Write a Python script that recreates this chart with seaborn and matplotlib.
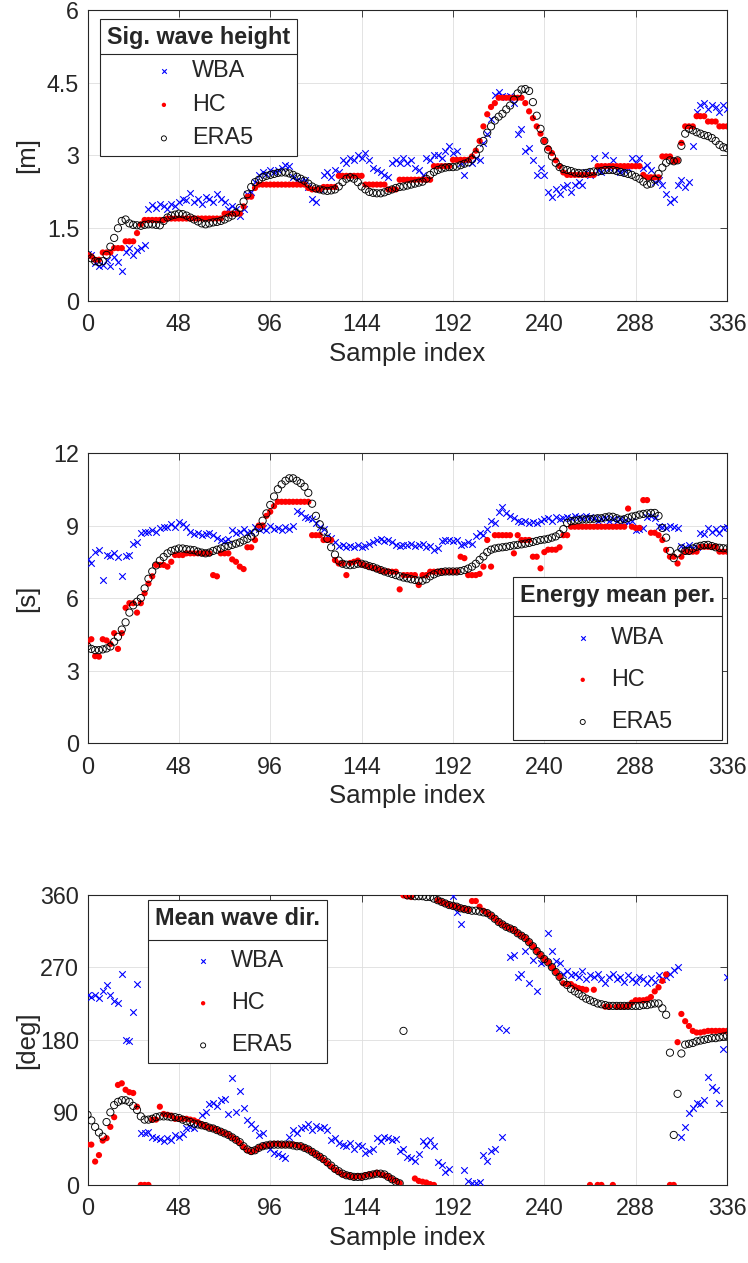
import numpy as np
import matplotlib
matplotlib.use("Agg")
import matplotlib.pyplot as plt
import seaborn as sns
from matplotlib.lines import Line2D

# every second sample, 0..336
sample = np.arange(0, 337, 2)

# significant wave height [m]
hs_wba = [0.97, 0.95, 0.78, 0.72, 0.75, 0.85, 0.72, 0.90, 0.80, 0.62, 1.00, 1.10,
          0.95, 1.05, 1.10, 1.15, 1.90, 1.98, 1.92, 2.00, 1.95, 1.90, 2.00, 1.95,
          2.05, 2.10, 2.08, 2.22, 2.05, 2.10, 2.00, 2.15, 2.10, 2.05, 2.20, 2.10,
          2.05, 1.90, 1.95, 1.90, 1.75, 1.90, 2.20, 2.25, 2.45, 2.60, 2.65, 2.62,
          2.70, 2.65, 2.70, 2.75, 2.80, 2.78, 2.55, 2.50, 2.48, 2.50, 2.35, 2.10,
          2.05, 2.30, 2.60, 2.65, 2.55, 2.70, 2.65, 2.90, 2.85, 2.95, 2.90, 3.00,
          2.95, 3.05, 2.90, 2.75, 2.70, 2.65, 2.60, 2.55, 2.85, 2.90, 2.85, 2.95,
          2.85, 2.90, 2.75, 2.70, 2.60, 2.95, 2.90, 3.00, 3.00, 2.95, 3.10, 3.20,
          3.05, 3.10, 2.85, 2.60, 2.90, 2.85, 2.95, 2.90, 3.25, 3.45, 3.75, 4.25,
          4.30, 4.22, 4.20, 4.22, 4.08, 3.45, 3.55, 3.10, 3.15, 2.90, 2.60, 2.75,
          2.60, 2.25, 2.15, 2.30, 2.20, 2.35, 2.40, 2.25, 2.40, 2.45, 2.40, 2.65,
          2.60, 2.95, 2.70, 2.65, 3.00, 2.75, 2.90, 2.70, 2.65, 2.70, 2.75, 2.95,
          2.85, 2.95, 2.75, 2.80, 2.70, 2.45, 2.50, 2.40, 2.20, 2.05, 2.10, 2.40,
          2.50, 2.35, 2.45, 3.20, 3.90, 4.05, 4.08, 3.95, 4.05, 4.00, 3.90, 4.05,
          3.95]
hs_hc = [0.95, 0.92, 0.85, 0.85, 1.00, 1.00, 1.00, 1.09, 1.09, 1.09, 1.23, 1.23,
         1.23, 1.40, 1.58, 1.67, 1.67, 1.67, 1.67, 1.67, 1.67, 1.70, 1.70, 1.70,
         1.70, 1.70, 1.70, 1.70, 1.70, 1.70, 1.70, 1.70, 1.70, 1.70, 1.70, 1.70,
         1.80, 1.80, 1.80, 1.80, 1.80, 1.95, 2.15, 2.15, 2.33, 2.40, 2.40, 2.40,
         2.40, 2.40, 2.40, 2.40, 2.40, 2.40, 2.40, 2.40, 2.40, 2.40, 2.33, 2.30,
         2.30, 2.30, 2.35, 2.35, 2.35, 2.35, 2.58, 2.58, 2.58, 2.58, 2.58, 2.58,
         2.58, 2.40, 2.40, 2.40, 2.40, 2.40, 2.40, 2.30, 2.30, 2.30, 2.50, 2.50,
         2.50, 2.50, 2.50, 2.50, 2.50, 2.50, 2.50, 2.78, 2.78, 2.78, 2.78, 2.78,
         2.91, 2.91, 2.91, 2.91, 2.91, 2.98, 3.10, 3.30, 3.60, 3.85, 4.00, 4.08,
         4.19, 4.19, 4.19, 4.19, 4.19, 4.19, 4.19, 4.08, 3.91, 3.77, 3.60, 3.45,
         3.30, 3.15, 3.05, 2.90, 2.78, 2.65, 2.60, 2.60, 2.60, 2.60, 2.60, 2.60,
         2.60, 2.60, 2.78, 2.78, 2.78, 2.78, 2.78, 2.78, 2.78, 2.78, 2.78, 2.78,
         2.78, 2.78, 2.60, 2.55, 2.55, 2.55, 2.55, 2.98, 2.98, 2.98, 2.88, 2.90,
         3.26, 3.60, 3.60, 3.60, 3.81, 3.81, 3.81, 3.70, 3.70, 3.70, 3.60, 3.60,
         3.60]
hs_era5 = [0.95, 0.88, 0.82, 0.80, 0.82, 0.95, 1.12, 1.30, 1.50, 1.65, 1.68, 1.60,
           1.57, 1.56, 1.55, 1.57, 1.58, 1.58, 1.57, 1.56, 1.65, 1.72, 1.76, 1.78,
           1.80, 1.79, 1.76, 1.72, 1.68, 1.64, 1.60, 1.58, 1.60, 1.62, 1.63, 1.65,
           1.68, 1.72, 1.76, 1.82, 1.92, 2.05, 2.20, 2.35, 2.45, 2.50, 2.55, 2.58,
           2.60, 2.62, 2.64, 2.65, 2.65, 2.63, 2.60, 2.56, 2.52, 2.48, 2.42, 2.36,
           2.32, 2.30, 2.28, 2.27, 2.28, 2.30, 2.36, 2.45, 2.52, 2.55, 2.52, 2.45,
           2.36, 2.30, 2.25, 2.23, 2.22, 2.22, 2.24, 2.27, 2.30, 2.33, 2.35, 2.36,
           2.38, 2.40, 2.42, 2.44, 2.46, 2.52, 2.60, 2.66, 2.70, 2.73, 2.75, 2.76,
           2.76, 2.77, 2.80, 2.83, 2.86, 2.92, 3.02, 3.14, 3.30, 3.47, 3.60, 3.72,
           3.80, 3.86, 3.95, 4.03, 4.15, 4.28, 4.36, 4.37, 4.33, 4.10, 3.82, 3.55,
           3.30, 3.12, 2.98, 2.85, 2.76, 2.72, 2.70, 2.68, 2.65, 2.64, 2.63, 2.64,
           2.66, 2.67, 2.67, 2.68, 2.70, 2.70, 2.70, 2.68, 2.66, 2.64, 2.62, 2.60,
           2.56, 2.52, 2.46, 2.40, 2.42, 2.50, 2.62, 2.75, 2.85, 2.90, 2.88, 2.90,
           3.20, 3.45, 3.55, 3.52, 3.48, 3.45, 3.42, 3.40, 3.36, 3.30, 3.22, 3.17,
           3.15]

# energy mean period [s]
tm_wba = [7.60, 7.45, 7.90, 8.00, 6.75, 7.80, 7.75, 7.85, 7.70, 6.90, 7.75, 7.80,
          8.25, 8.30, 8.70, 8.75, 8.72, 8.80, 8.75, 8.90, 8.95, 8.95, 9.05, 8.95,
          9.15, 9.05, 8.95, 8.75, 8.65, 8.70, 8.60, 8.65, 8.70, 8.60, 8.50, 8.40,
          8.35, 8.45, 8.80, 8.70, 8.75, 8.85, 8.70, 8.75, 8.95, 8.85, 8.90, 8.80,
          9.00, 8.85, 8.90, 8.80, 8.95, 8.85, 9.00, 9.60, 9.50, 9.35, 9.30, 9.25,
          9.10, 8.95, 8.85, 8.55, 8.50, 8.30, 8.15, 8.20, 8.10, 8.15, 8.10, 8.20,
          8.10, 8.15, 8.25, 8.30, 8.40, 8.45, 8.35, 8.40, 8.30, 8.20, 8.15, 8.20,
          8.20, 8.25, 8.15, 8.20, 8.25, 8.10, 8.15, 8.00, 8.05, 8.35, 8.40, 8.40,
          8.35, 8.40, 8.20, 8.25, 8.30, 8.25, 8.55, 8.70, 8.60, 8.85, 9.20, 9.10,
          9.55, 9.75, 9.50, 9.40, 9.30, 9.20, 9.15, 9.20, 9.10, 9.15, 9.10, 9.20,
          9.25, 9.30, 9.20, 9.35, 9.25, 9.30, 9.35, 9.30, 9.40, 9.35, 9.30, 9.40,
          9.35, 9.30, 9.20, 9.25, 9.30, 9.20, 9.25, 9.20, 9.25, 9.20, 9.15, 9.20,
          8.80, 8.85, 8.90, 9.35, 9.40, 9.30, 9.00, 8.95, 8.90, 9.00, 8.95, 8.90,
          8.15, 8.10, 8.20, 8.05, 8.10, 8.70, 8.65, 8.90, 8.75, 8.85, 8.70, 8.90,
          8.95]
tm_hc = [4.20, 4.30, 3.60, 3.58, 4.30, 4.25, 4.10, 4.55, 3.90, 4.55, 5.60, 5.79,
         5.79, 5.40, 5.79, 6.20, 6.60, 6.90, 7.37, 7.37, 7.37, 7.30, 7.50, 7.78,
         7.78, 7.78, 7.85, 7.85, 7.85, 7.85, 7.85, 7.85, 7.85, 6.95, 6.90, 7.85,
         7.85, 7.85, 7.60, 7.50, 7.30, 7.20, 8.10, 8.10, 8.40, 9.00, 9.00, 9.40,
         9.57, 9.80, 9.98, 9.98, 9.98, 9.98, 9.98, 9.98, 9.98, 9.98, 9.98, 8.60,
         8.60, 8.60, 8.40, 8.40, 8.40, 7.57, 7.43, 7.43, 6.95, 7.45, 7.50, 7.55,
         7.40, 7.35, 7.30, 7.25, 7.20, 7.15, 7.10, 7.10, 7.09, 7.09, 6.36, 6.95,
         6.95, 6.95, 6.95, 6.54, 6.95, 6.95, 7.09, 7.09, 7.09, 7.09, 7.09, 7.09,
         7.09, 7.09, 7.71, 7.65, 6.95, 6.95, 6.95, 7.00, 7.30, 8.40, 7.30, 8.60,
         8.60, 8.60, 8.60, 8.60, 7.85, 8.60, 8.40, 8.40, 8.40, 7.71, 7.71, 7.23,
         7.90, 8.00, 8.00, 8.00, 8.10, 8.60, 8.60, 8.95, 8.95, 8.95, 8.95, 8.95,
         8.95, 8.95, 8.95, 8.95, 8.95, 8.95, 8.95, 8.95, 8.95, 8.95, 9.70, 8.95,
         8.90, 8.90, 10.05, 10.05, 8.70, 8.70, 8.60, 8.40, 7.99, 7.71, 7.71, 7.43,
         7.71, 7.92, 7.92, 7.92, 7.92, 8.12, 8.12, 8.12, 8.12, 8.12, 7.92, 7.92,
         7.92]
tm_era5 = [4.00, 3.90, 3.85, 3.85, 3.88, 3.92, 4.00, 4.20, 4.40, 4.70, 5.00, 5.40,
           5.70, 5.85, 6.00, 6.40, 6.80, 7.10, 7.35, 7.55, 7.70, 7.85, 7.95, 8.00,
           8.05, 8.05, 8.02, 8.00, 7.98, 7.92, 7.88, 7.85, 7.88, 7.95, 8.00, 8.05,
           8.12, 8.15, 8.20, 8.25, 8.30, 8.38, 8.45, 8.55, 8.70, 8.90, 9.20, 9.50,
           9.85, 10.20, 10.50, 10.70, 10.85, 10.95, 10.95, 10.85, 10.75, 10.60, 10.35, 9.90,
           9.40, 9.05, 8.75, 8.45, 8.10, 7.80, 7.55, 7.42, 7.38, 7.36, 7.38, 7.42,
           7.42, 7.38, 7.32, 7.28, 7.22, 7.16, 7.10, 7.05, 7.00, 6.95, 6.90, 6.85,
           6.82, 6.78, 6.75, 6.72, 6.72, 6.78, 6.90, 6.98, 7.05, 7.08, 7.10, 7.10,
           7.10, 7.10, 7.12, 7.16, 7.22, 7.30, 7.42, 7.58, 7.72, 7.90, 8.00, 8.05,
           8.08, 8.10, 8.12, 8.15, 8.18, 8.20, 8.22, 8.25, 8.28, 8.32, 8.36, 8.40,
           8.42, 8.45, 8.50, 8.55, 8.65, 8.85, 9.10, 9.18, 9.20, 9.22, 9.25, 9.25,
           9.26, 9.28, 9.30, 9.30, 9.34, 9.37, 9.36, 9.30, 9.24, 9.26, 9.32, 9.37,
           9.40, 9.45, 9.48, 9.50, 9.52, 9.52, 9.40, 8.90, 8.50, 7.95, 7.65, 7.85,
           8.05, 7.95, 7.95, 8.05, 8.12, 8.16, 8.19, 8.20, 8.15, 8.10, 8.08, 8.06,
           8.05]

# mean wave direction [deg]
dir_wba = [235, 233, 236, 232, 240, 248, 235, 228, 225, 262, 180, 178,
           215, 249, 65, 64, 66, 60, 58, 57, 55, 58, 56, 62,
           60, 63, 70, 72, 70, 75, 87, 90, 100, 102, 98, 105,
           107, 88, 132, 90, 117, 95, 80, 75, 70, 62, 65, 50,
           45, 40, 38, 36, 33, 60, 68, 65, 70, 72, 75, 68,
           73, 70, 72, 68, 56, 58, 52, 50, 48, 52, 45, 50,
           48, 40, 42, 44, 58, 55, 60, 58, 56, 57, 42, 45,
           35, 33, 30, 38, 54, 50, 56, 48, 29, 25, 16, 20,
           358, 338, 324, 18, 5, 3, 2, 4, 37, 30, 42, 45,
           194, 60, 192, 283, 285, 258, 262, 290, 250, 279, 240, 275,
           278, 312, 290, 278, 275, 262, 265, 260, 262, 258, 265, 255,
           260, 258, 262, 255, 250, 258, 262, 255, 258, 252, 260, 255,
           252, 258, 255, 250, 256, 252, 260, 255, 258, 262, 266, 270,
           60, 72, 89, 95, 101, 100, 105, 134, 122, 118, 101, 168,
           258]
dir_hc = [50, 50, 29, 37, 55, 58, 72, 84, 124, 126, 118, 115,
          114, 97, 0, 0, 0, 81, 81, 97, 88, 87, 86, 82,
          82, 82, 82, 81, 80, 78, 75, 73, 71, 70, 68, 66,
          64, 62, 59, 56, 52, 47, 43, 41, 43, 46, 48, 49,
          50, 51, 51, 50, 50, 50, 50, 49, 48, 46, 44, 41,
          38, 35, 31, 27, 23, 19, 16, 13, 12, 11, 10, 11,
          10, 12, 13, 13, 15, 13, 12, 10, 7, 5, 2, 359,
          358, 357, 8, 5, 4, 3, 1, 0, 353, 351, 349, 347,
          346, 345, 343, 342, 341, 352, 352, 345, 340, 337, 334, 330,
          326, 323, 320, 318, 316, 312, 309, 306, 301, 296, 290, 285,
          280, 276, 270, 264, 258, 250, 249, 249, 246, 244, 243, 242,
          0, 242, 0, 0, 221, 221, 0, 221, 221, 221, 222, 226,
          229, 229, 229, 230, 233, 240, 245, 253, 261, 0, 0, 177,
          212, 203, 197, 191, 189, 189, 190, 191, 191, 191, 191, 191,
          191]
dir_era5 = [87, 80, 72, 65, 60, 78, 90, 99, 103, 105, 105, 103,
            98, 93, 85, 81, 81, 82, 84, 85, 85, 85, 84, 84,
            83, 81, 79, 78, 76, 75, 74, 73, 71, 70, 68, 66,
            64, 62, 59, 56, 53, 48, 44, 42, 43, 46, 48, 49,
            50, 50, 50, 50, 50, 50, 49, 48, 48, 46, 44, 41,
            38, 35, 32, 28, 24, 20, 17, 14, 12, 11, 10, 10,
            10, 11, 12, 13, 14, 14, 13, 10, 7, 4, 2, 191,
            359, 359, 358, 358, 358, 357, 357, 355, 353, 351, 349, 347,
            346, 345, 343, 342, 341, 340, 340, 339, 338, 337, 334, 330,
            326, 323, 320, 318, 316, 312, 309, 306, 301, 296, 290, 285,
            280, 276, 270, 264, 258, 252, 248, 243, 240, 237, 234, 231,
            229, 227, 225, 224, 223, 222, 222, 222, 222, 222, 222, 222,
            222, 222, 223, 223, 224, 225, 225, 219, 211, 164, 62, 113,
            163, 174, 175, 176, 178, 179, 180, 181, 182, 182, 183, 184,
            185]

x_ticks = list(range(0, 337, 48))
panels = [
    (hs_wba, hs_hc, hs_era5, [0, 1.5, 3, 4.5, 6], ["0", "1.5", "3", "4.5", "6"], "[m]",
     "Sig. wave height", "upper left", (0.0195, 0.969), 0.45),
    (tm_wba, tm_hc, tm_era5, [0, 3, 6, 9, 12], ["0", "3", "6", "9", "12"], "[s]",
     "Energy mean per.", "lower right", (0.992, 0.011), 0.82),
    (dir_wba, dir_hc, dir_era5, [0, 90, 180, 270, 360], ["0", "90", "180", "270", "360"], "[deg]",
     "Mean wave dir.", "upper left", (0.095, 0.981), 0.82),
]
axes_rect = [[0.117, 0.7617, 0.855, 0.2304],
             [0.117, 0.4115, 0.855, 0.2299],
             [0.117, 0.0618, 0.855, 0.2299]]

ink = "#262626"


def main():
    sns.set_style("white")
    plt.rcParams["font.family"] = ["Liberation Sans", "DejaVu Sans"]

    fig = plt.figure(figsize=(7.48, 12.63), dpi=100)
    legends = []
    for rect, (wba, hc, era5, yt, ytl, ylab, title, loc, anchor, spacing) in zip(axes_rect, panels):
        ax = fig.add_axes(rect)
        sns.scatterplot(x=sample, y=wba, ax=ax, marker="x", color="blue", s=22,
                        linewidth=0.8, label="WBA", legend=False, zorder=3)
        sns.scatterplot(x=sample, y=hc, ax=ax, marker="o", color="red", s=20,
                        edgecolor="none", label="HC", legend=False, zorder=4)
        sns.scatterplot(x=sample, y=era5, ax=ax, marker="o", facecolor="none",
                        edgecolor="black", s=27, linewidth=0.65, label="ERA5",
                        legend=False, zorder=5)

        ax.set_xlim(0, 336)
        ax.set_xticks(x_ticks)
        ax.set_ylim(yt[0], yt[-1])
        ax.set_yticks(yt, labels=ytl)
        ax.tick_params(direction="in", length=5, width=0.6, top=True, right=True,
                       color=ink, labelcolor=ink, labelsize=16.8)
        ax.tick_params(axis="x", pad=9)
        ax.tick_params(axis="y", pad=6)
        ax.grid(True, color="#dedede", linewidth=0.6)
        ax.set_axisbelow(True)
        for sp in ax.spines.values():
            sp.set_color(ink)
            sp.set_linewidth(0.8)
        ax.set_xlabel("Sample index", fontsize=18.5, color=ink, labelpad=4)
        ax.set_ylabel(ylab, fontsize=18.5, color=ink)
        ax.yaxis.set_label_coords(-0.076, 0.5)

        handles, labels = ax.get_legend_handles_labels()
        leg = ax.legend(handles, labels, title=title, loc=loc, bbox_to_anchor=anchor,
                        borderaxespad=0, fontsize=16.8,
                        title_fontproperties={"weight": "bold", "size": 16.8},
                        frameon=True, fancybox=False, edgecolor=ink, framealpha=1,
                        alignment="center", handlelength=1.7, handletextpad=0.35,
                        borderpad=0.3, labelspacing=spacing, markerscale=0.7)
        leg.get_frame().set_linewidth(0.8)
        leg.set_zorder(10)
        legends.append(leg)

    # separator under each legend title, as in the original
    fig.canvas.draw()
    r = fig.canvas.get_renderer()
    inv = fig.transFigure.inverted()
    for leg in legends:
        fb = leg.get_frame().get_window_extent(r)
        tb = leg.get_title().get_window_extent(r)
        eb = leg.get_texts()[0].get_window_extent(r)
        ymid = (tb.y0 + eb.y1) / 2
        (x0, y0), (x1, _) = inv.transform([(fb.x0, ymid), (fb.x1, ymid)])
        fig.add_artist(Line2D([x0, x1], [y0, y0], color=ink, linewidth=0.8, zorder=11))

    fig.savefig("out.png", dpi=100)


if __name__ == "__main__":
    main()
